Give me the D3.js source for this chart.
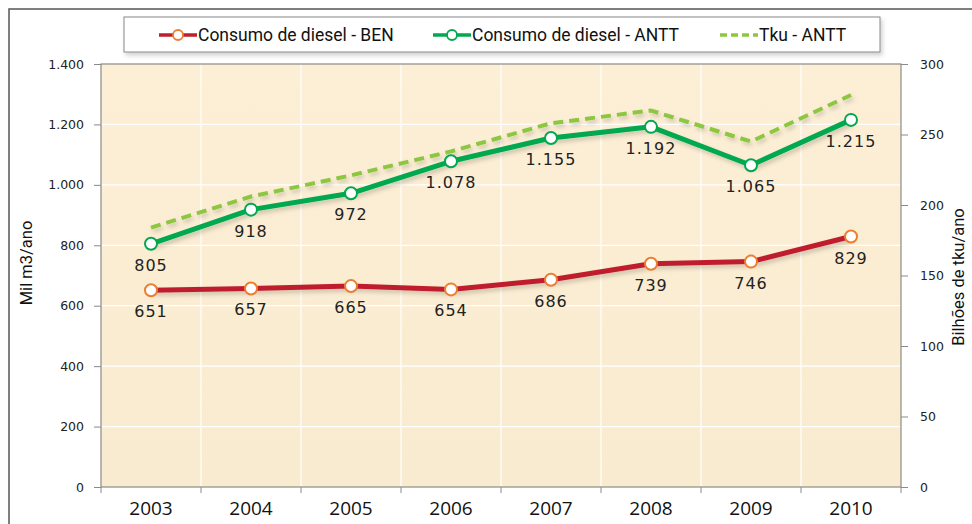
<!DOCTYPE html>
<html>
<head>
<meta charset="utf-8">
<script src="https://cdn.jsdelivr.net/npm/d3@7"></script>
<style>
  body { margin: 0; background: #fff; }
  svg { display: block; }
</style>
</head>
<body>
<div id="chart"></div>
<script>
// data
var years = ["2003", "2004", "2005", "2006", "2007", "2008", "2009", "2010"];
var dieselBEN = [651, 657, 665, 654, 686, 739, 746, 829];
var dieselANTT = [805, 918, 972, 1078, 1155, 1192, 1065, 1215];
var tkuANTT = [184, 206, 221, 238, 258, 267, 245, 278];
var leftTicks = [0, 200, 400, 600, 800, 1000, 1200, 1400];
var rightTicks = [0, 50, 100, 150, 200, 250, 300];
var legendNames = ["Consumo de diesel - BEN", "Consumo de diesel - ANTT", "Tku - ANTT"];

var W = 972, H = 524;
var plotL = 101, plotR = 901, plotT = 64, plotB = 487;

var svg = d3.select("#chart").append("svg")
    .attr("width", W).attr("height", H);

var defs = svg.append("defs");
var grad = defs.append("linearGradient").attr("id", "bg")
    .attr("x1", 0).attr("y1", 0).attr("x2", 0).attr("y2", 1);
grad.append("stop").attr("offset", "0%").attr("stop-color", "#fdefd6");
grad.append("stop").attr("offset", "100%").attr("stop-color", "#f9ebcf");

var shadow = defs.append("filter").attr("id", "shadow")
    .attr("x", "-10%").attr("y", "-10%").attr("width", "130%").attr("height", "150%");
shadow.append("feDropShadow").attr("dx", 2).attr("dy", 3).attr("stdDeviation", 2)
    .attr("flood-color", "#000").attr("flood-opacity", 0.18);

// outer frame
svg.append("path").attr("d", "M9," + H + "V9H" + W)
    .attr("fill", "none").attr("stroke", "#555").attr("stroke-width", 1.5);

var x = d3.scaleBand().domain(years).range([plotL, plotR]);
var yL = d3.scaleLinear().domain([0, 1400]).range([plotB, plotT]);
var yR = d3.scaleLinear().domain([0, 300]).range([plotB, plotT]);

// plot background
svg.append("rect").attr("x", plotL).attr("y", plotT)
    .attr("width", plotR - plotL).attr("height", plotB - plotT)
    .attr("fill", "url(#bg)");

// grid
svg.append("g").selectAll("line").data(leftTicks.slice(1, -1)).join("line")
    .attr("x1", plotL).attr("x2", plotR)
    .attr("y1", d => yL(d)).attr("y2", d => yL(d))
    .attr("stroke", "#fff").attr("stroke-width", 1.2);
svg.append("g").selectAll("line").data(years.slice(1)).join("line")
    .attr("x1", d => x(d)).attr("x2", d => x(d))
    .attr("y1", plotT).attr("y2", plotB)
    .attr("stroke", "#fff").attr("stroke-width", 1.2);

svg.append("rect").attr("x", plotL).attr("y", plotT)
    .attr("width", plotR - plotL).attr("height", plotB - plotT)
    .attr("fill", "none").attr("stroke", "#8a8a8a").attr("stroke-width", 1.2);

// axes
var axL = svg.append("g").attr("transform", "translate(" + plotL + ",0)")
    .call(d3.axisLeft(yL).tickValues(leftTicks).tickSize(7).tickPadding(10)
        .tickFormat(d => d3.format(",")(d).replace(/,/g, ".")));
var axR = svg.append("g").attr("transform", "translate(" + plotR + ",0)")
    .call(d3.axisRight(yR).tickValues(rightTicks).tickSize(7).tickPadding(12));
var axB = svg.append("g").attr("transform", "translate(0," + plotB + ")")
    .call(d3.axisBottom(x).tickSize(0).tickPadding(15));
svg.append("g").attr("transform", "translate(0," + plotB + ")")
    .selectAll("line").data(d3.range(years.length + 1)).join("line")
    .attr("x1", i => plotL + i * x.bandwidth()).attr("x2", i => plotL + i * x.bandwidth())
    .attr("y1", 0).attr("y2", 6).attr("stroke", "#8a8a8a");

[axL, axR, axB].forEach(function (a) {
    a.select(".domain").remove();
    a.selectAll(".tick line").attr("stroke", "#8a8a8a");
});
axL.selectAll("text").attr("font-family", "DejaVu Sans").attr("font-size", 12.5).attr("fill", "#222");
axR.selectAll("text").attr("font-family", "DejaVu Sans").attr("font-size", 12.5).attr("fill", "#222");
axB.selectAll("text").attr("font-family", "Open Sans").attr("font-size", 19).attr("fill", "#111");

svg.append("text").attr("transform", "translate(32,263) rotate(-90)")
    .attr("text-anchor", "middle").attr("font-family", "Roboto")
    .attr("font-size", 16.5).attr("fill", "#111").text("Mil m3/ano");
svg.append("text").attr("transform", "translate(964,277) rotate(-90)")
    .attr("text-anchor", "middle").attr("font-family", "Roboto")
    .attr("font-size", 16.5).attr("fill", "#111").text("Bilhões de tku/ano");

// lines
var cx = d => x(d) + x.bandwidth() / 2;

var lineTku = d3.line().x((d, i) => cx(years[i])).y(d => yR(d));
svg.append("path").datum(tkuANTT).attr("d", lineTku)
    .attr("fill", "none").attr("stroke", "#8dc63f").attr("stroke-width", 4)
    .attr("stroke-dasharray", "10,6").attr("filter", "url(#shadow)");

var lineL = d3.line().x((d, i) => cx(years[i])).y(d => yL(d));

var series = [
    { vals: dieselANTT, line: "#00a84f", mark: "#00a84f" },
    { vals: dieselBEN, line: "#bf1e2d", mark: "#ee7d2f" }
];
series.forEach(function (s) {
    svg.append("path").datum(s.vals).attr("d", lineL)
        .attr("fill", "none").attr("stroke", s.line).attr("stroke-width", 5)
        .attr("stroke-linejoin", "round").attr("filter", "url(#shadow)");
    svg.append("g").selectAll("circle").data(s.vals).join("circle")
        .attr("cx", (d, i) => cx(years[i])).attr("cy", d => yL(d)).attr("r", 6)
        .attr("fill", "#fff").attr("stroke", s.mark).attr("stroke-width", 2);
    svg.append("g").selectAll("text").data(s.vals).join("text")
        .attr("x", (d, i) => cx(years[i])).attr("y", d => yL(d) + 27)
        .attr("text-anchor", "middle").attr("font-family", "DejaVu Sans")
        .attr("font-size", 16).attr("letter-spacing", 1).attr("fill", "#222")
        .text(d => d3.format(",")(d).replace(/,/g, "."));
});

// legend
var lg = svg.append("g");
lg.append("rect").attr("x", 124).attr("y", 17).attr("width", 756).attr("height", 35)
    .attr("fill", "#fff").attr("stroke", "#888").attr("stroke-width", 1)
    .attr("filter", "url(#shadow)");
var legendX = [159, 433, 720];
var legendStyle = [
    { line: "#bf1e2d", mark: "#ee7d2f", dash: null },
    { line: "#00a84f", mark: "#00a84f", dash: null },
    { line: "#8dc63f", mark: null, dash: "7,4" }
];
legendNames.forEach(function (name, i) {
    var g = lg.append("g").attr("transform", "translate(" + legendX[i] + ",35)");
    g.append("line").attr("x1", 0).attr("x2", 38).attr("y1", 0).attr("y2", 0)
        .attr("stroke", legendStyle[i].line).attr("stroke-width", 3.5)
        .attr("stroke-dasharray", legendStyle[i].dash);
    if (legendStyle[i].mark) {
        g.append("circle").attr("cx", 19).attr("cy", 0).attr("r", 5)
            .attr("fill", "#fff").attr("stroke", legendStyle[i].mark).attr("stroke-width", 1.8);
    }
    g.append("text").attr("x", 39).attr("y", 6)
        .attr("font-family", "Roboto").attr("font-size", 17.5)
        .attr("fill", "#111").text(name);
});
</script>
</body>
</html>
